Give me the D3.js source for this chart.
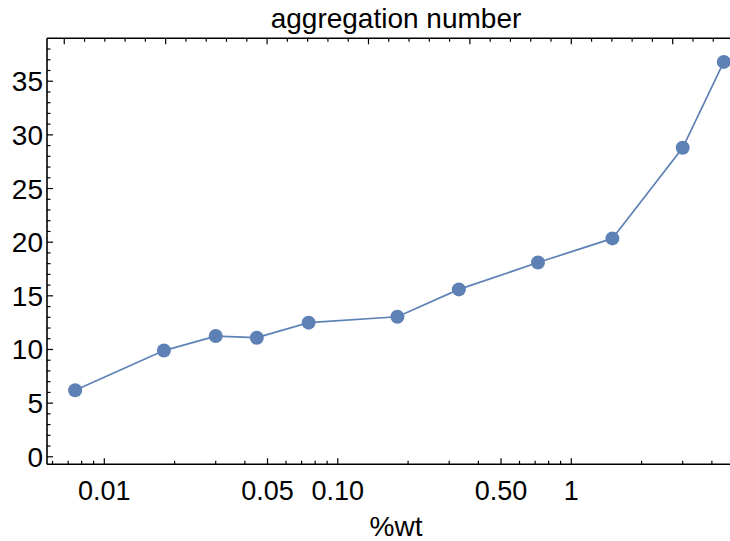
<!DOCTYPE html>
<html>
<head>
<meta charset="utf-8">
<script src="https://cdnjs.cloudflare.com/ajax/libs/d3/7.8.5/d3.min.js"></script>
<style>
  body { margin: 0; background: #fff; }
  svg { display: block; }
  text { font-family: "Liberation Sans", Arial, sans-serif; fill: #000; }
</style>
</head>
<body>
<svg id="chart" width="730" height="541"></svg>
<script>
// data
var wt = [0.0075, 0.018, 0.030, 0.045, 0.075, 0.18, 0.33, 0.72, 1.5, 3.0, 4.5];
var agg = [6.2, 9.9, 11.25, 11.1, 12.5, 13.05, 15.6, 18.1, 20.35, 28.8, 36.8];

var x_major = [0.01, 0.05, 0.10, 0.50, 1];
var x_major_labels = ["0.01", "0.05", "0.10", "0.50", "1"];
var x_minor = [0.006, 0.007, 0.008, 0.009, 0.02, 0.03, 0.04, 0.06, 0.07, 0.08, 0.09,
               0.2, 0.3, 0.4, 0.6, 0.7, 0.8, 0.9, 2, 3, 4, 5];
var y_major = [0, 5, 10, 15, 20, 25, 30, 35];

var title = "aggregation number";
var x_title = "%wt";

var pLeft = 47, pRight = 745, pTop = 38.3, pBottom = 464.3;
var col = "#5E81B5";

var svg = d3.select("#chart");

var x = d3.scaleLog()
    .domain([0.005683, 5.546])
    .range([pLeft, pRight]);
var y = d3.scaleLinear()
    .domain([-0.7, 39])
    .range([pBottom, pTop]);
// top frame ticks follow the natural log of %wt
var xTop = d3.scaleLinear()
    .domain([Math.log(0.005683), Math.log(5.546)])
    .range([pLeft, pRight]);

var frame = svg.append("g")
    .attr("stroke", "#000")
    .attr("stroke-width", 1.6)
    .attr("fill", "none");

frame.append("line").attr("x1", pLeft).attr("x2", pRight).attr("y1", pBottom).attr("y2", pBottom);
frame.append("line").attr("x1", pLeft).attr("x2", pRight).attr("y1", pTop).attr("y2", pTop);
frame.append("line").attr("x1", pLeft).attr("x2", pLeft).attr("y1", pTop).attr("y2", pBottom);

var ticks = svg.append("g").attr("stroke", "#000").attr("stroke-width", 1.2);

// bottom ticks
ticks.selectAll(".xmaj").data(x_major).enter().append("line")
    .attr("x1", function(d) { return x(d); }).attr("x2", function(d) { return x(d); })
    .attr("y1", pBottom).attr("y2", pBottom - 6);
ticks.selectAll(".xmin").data(x_minor).enter().append("line")
    .attr("x1", function(d) { return x(d); }).attr("x2", function(d) { return x(d); })
    .attr("y1", pBottom).attr("y2", pBottom - 3.5);

// top ticks
var topTicks = d3.range(-25, 9).map(function(i) { return i / 5; });
ticks.selectAll(".tmin").data(topTicks).enter().append("line")
    .attr("x1", function(d) { return xTop(d); }).attr("x2", function(d) { return xTop(d); })
    .attr("y1", pTop).attr("y2", function(d) { return pTop + (Math.abs(d - Math.round(d)) < 1e-9 ? 6 : 3.5); });

// left ticks
ticks.selectAll(".ymin").data(d3.range(0, 39)).enter().append("line")
    .attr("x1", pLeft).attr("x2", function(d) { return pLeft + (d % 5 == 0 ? 6 : 3.5); })
    .attr("y1", function(d) { return y(d); }).attr("y2", function(d) { return y(d); });

// labels
svg.selectAll(".ylab").data(y_major).enter().append("text")
    .attr("x", pLeft - 4)
    .attr("y", function(d) { return y(d) + 10; })
    .attr("text-anchor", "end")
    .attr("font-size", 28)
    .text(function(d) { return d; });

svg.selectAll(".xlab").data(x_major).enter().append("text")
    .attr("x", function(d) { return x(d); })
    .attr("y", pBottom + 36)
    .attr("text-anchor", "middle")
    .attr("font-size", 27)
    .text(function(d, i) { return x_major_labels[i]; });

svg.append("text")
    .attr("x", (pLeft + pRight) / 2)
    .attr("y", 28)
    .attr("text-anchor", "middle")
    .attr("font-size", 28)
    .text(title);

svg.append("text")
    .attr("x", (pLeft + pRight) / 2)
    .attr("y", 536)
    .attr("text-anchor", "middle")
    .attr("font-size", 28)
    .text(x_title);

// series
var pts = wt.map(function(d, i) { return [d, agg[i]]; });

svg.append("path")
    .datum(pts)
    .attr("fill", "none")
    .attr("stroke", col)
    .attr("stroke-width", 1.7)
    .attr("d", d3.line()
        .x(function(d) { return x(d[0]); })
        .y(function(d) { return y(d[1]); }));

svg.selectAll(".pt").data(pts).enter().append("circle")
    .attr("cx", function(d) { return x(d[0]); })
    .attr("cy", function(d) { return y(d[1]); })
    .attr("r", 7)
    .attr("fill", col);
</script>
</body>
</html>
